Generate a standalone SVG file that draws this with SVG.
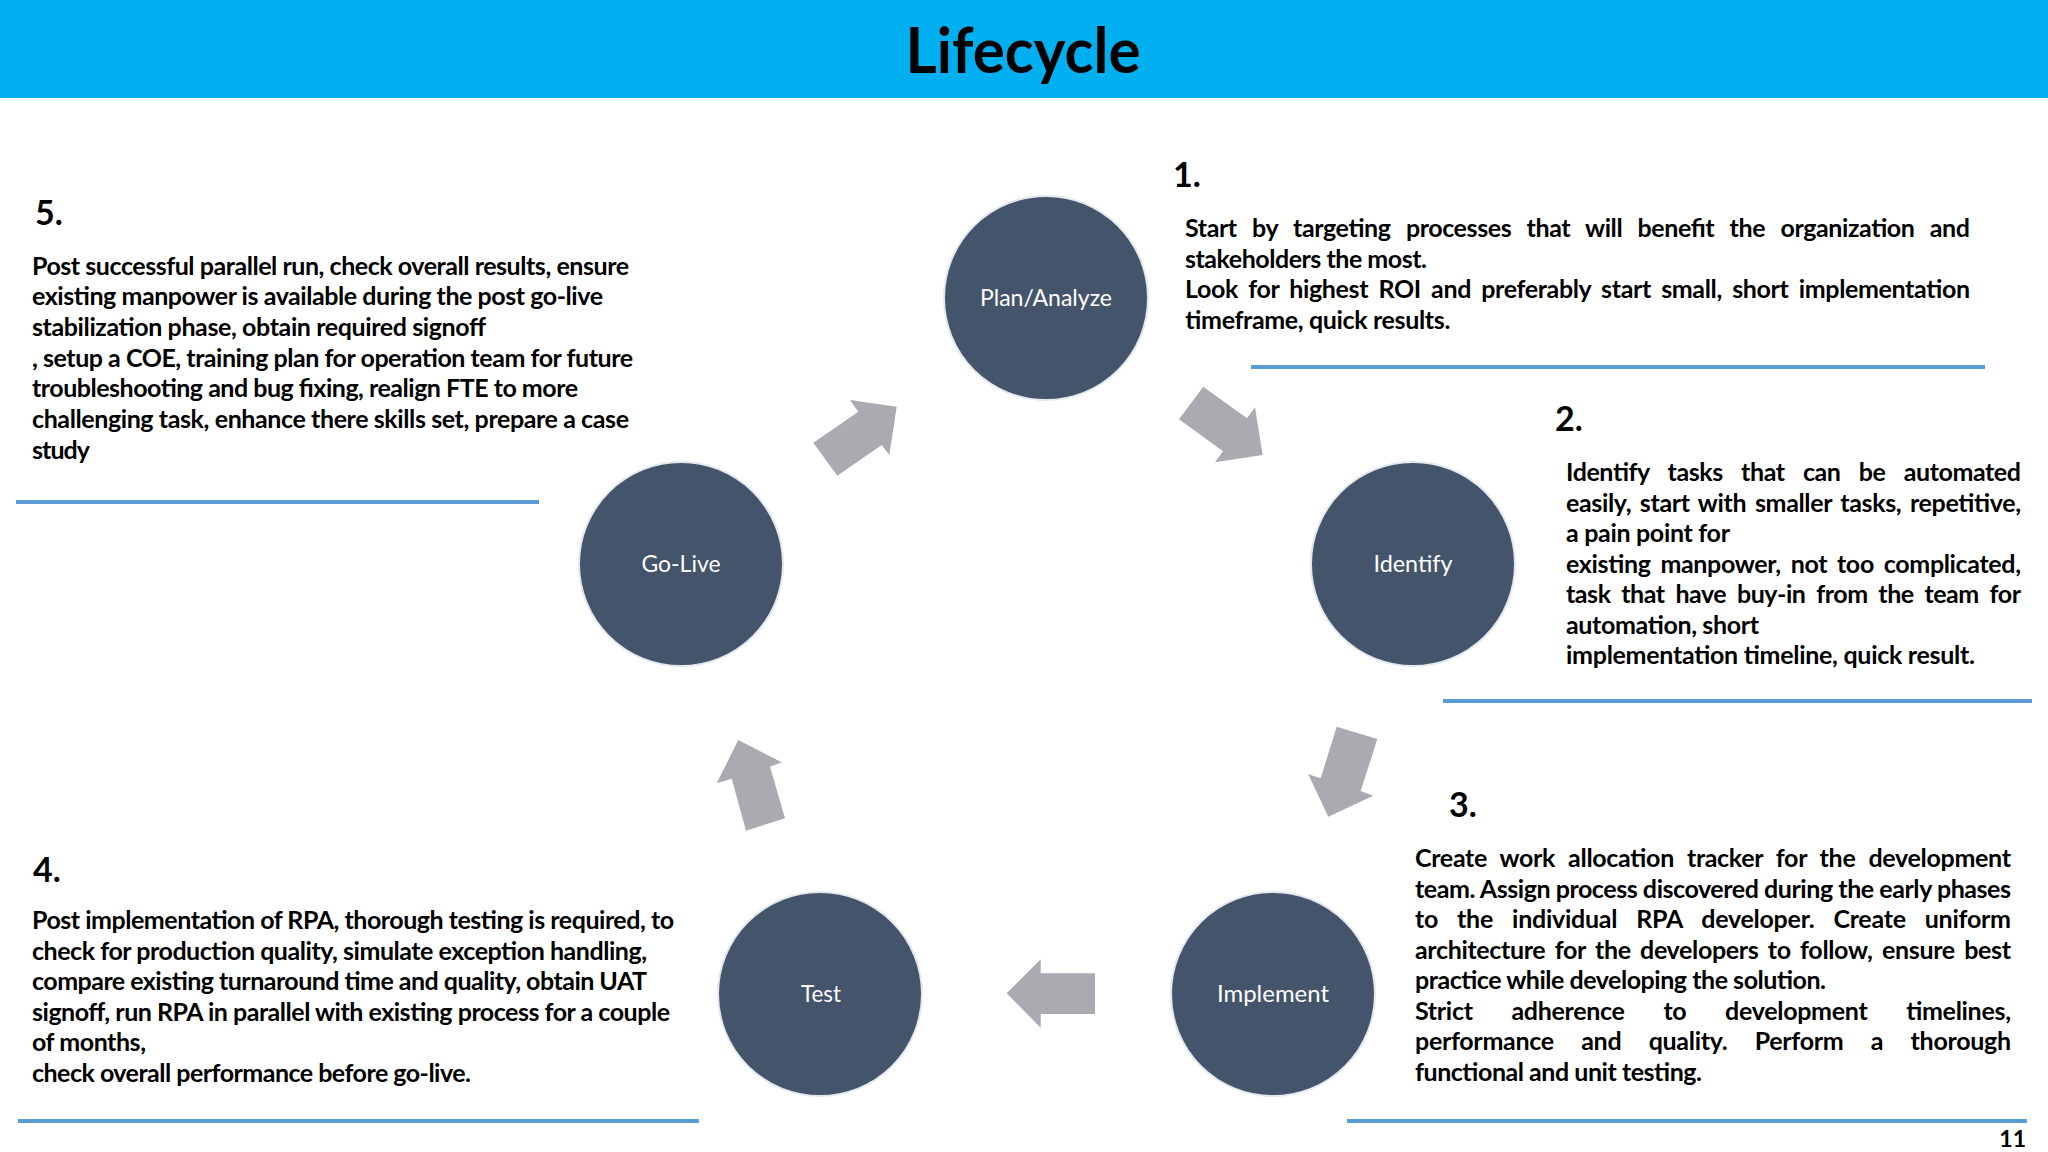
<svg xmlns="http://www.w3.org/2000/svg" width="2048" height="1152" viewBox="0 0 2048 1152">
<style>
.bg{fill:#ffffff}
.hdr{fill:#00AFEF}
.title{font-family:Lato,'Open Sans','Liberation Sans',sans-serif;font-weight:700;font-size:63px;fill:#000;text-anchor:middle}
.body{font-family:Lato,'Open Sans','Liberation Sans',sans-serif;font-weight:700;font-size:25px;fill:#000}
.num{font-family:Lato,'Open Sans','Liberation Sans',sans-serif;font-weight:700;font-size:34px;fill:#000}
.pg{font-family:Lato,'Open Sans','Liberation Sans',sans-serif;font-weight:700;font-size:23px;fill:#000;text-anchor:end}
.node{fill:#44546A;stroke:#E3E8EF;stroke-width:2}
.lbl{font-family:Lato,'Open Sans','Liberation Sans',sans-serif;font-size:24px;fill:#fff;text-anchor:middle}
.rule{stroke:#5B9BD5;stroke-width:4}
.arr{fill:#A9ABB1}
</style>
<rect class="bg" x="0" y="0" width="2048" height="1152"/>
<rect class="hdr" x="0" y="0" width="2048" height="98"/>
<text class="title" x="1023" y="73" textLength="235" lengthAdjust="spacingAndGlyphs">Lifecycle</text>

<g id="connectors">
<polygon class="arr" points="813.3,442.7 858.3,411.7 850,400 896.7,406.7 889.3,455 881.7,445 837.3,475.7"/>
<polygon class="arr" points="1203.3,386.7 1247,418.3 1255,407.3 1262.7,455 1215,462.3 1223,451.3 1179,419.3"/>
<polygon class="arr" points="1336.7,726.7 1377.3,739 1360.7,791 1373.3,795.7 1328.3,816.7 1308.3,774.3 1320.7,778.3"/>
<polygon class="arr" points="1095,973.3 1040.7,973.3 1040.7,959.3 1006.7,993.3 1040.7,1027.7 1040.7,1014 1095,1014"/>
<polygon class="arr" points="746,830.7 731.7,778.7 716.7,783.3 738.3,740 781.7,762.3 770,766.7 785,818.3"/>
</g>

<g id="node-plan">
<circle class="node" cx="1046" cy="298" r="102"/>
<text class="lbl" x="1046" y="306" textLength="132" lengthAdjust="spacingAndGlyphs">Plan/Analyze</text>
</g>
<g id="node-identify">
<circle class="node" cx="1413" cy="564" r="102"/>
<text class="lbl" x="1413" y="572" textLength="79" lengthAdjust="spacingAndGlyphs">Identify</text>
</g>
<g id="node-implement">
<circle class="node" cx="1273" cy="994" r="102"/>
<text class="lbl" x="1273" y="1002" textLength="112" lengthAdjust="spacingAndGlyphs">Implement</text>
</g>
<g id="node-test">
<circle class="node" cx="820" cy="994" r="102"/>
<text class="lbl" x="821" y="1002" textLength="40" lengthAdjust="spacingAndGlyphs">Test</text>
</g>
<g id="node-golive">
<circle class="node" cx="681" cy="564" r="102"/>
<text class="lbl" x="681" y="572" textLength="79" lengthAdjust="spacingAndGlyphs">Go-Live</text>
</g>

<g id="step1">
<text class="num" x="1173" y="187">1.</text>
<text class="body" x="1185" y="237" textLength="785" lengthAdjust="spacing" style="word-spacing:9.7px">Start by targeting processes that will benefit the organization and</text>
<text class="body" x="1185" y="267.5" textLength="242" lengthAdjust="spacing">stakeholders the most.</text>
<text class="body" x="1185" y="298" textLength="785" lengthAdjust="spacing" style="word-spacing:4.6px">Look for highest ROI and preferably start small, short implementation</text>
<text class="body" x="1185" y="328.5" textLength="265" lengthAdjust="spacing">timeframe, quick results.</text>
<line class="rule" x1="1251" y1="367" x2="1985" y2="367"/>
</g>

<g id="step2">
<text class="num" x="1555" y="431">2.</text>
<text class="body" x="1566" y="481" textLength="455" lengthAdjust="spacing" style="word-spacing:12.6px">Identify tasks that can be automated</text>
<text class="body" x="1566" y="511.5" textLength="455" lengthAdjust="spacing" style="word-spacing:3px">easily, start with smaller tasks, repetitive,</text>
<text class="body" x="1566" y="542" textLength="164" lengthAdjust="spacing">a pain point for</text>
<text class="body" x="1566" y="572.5" textLength="455" lengthAdjust="spacing" style="word-spacing:4.2px">existing manpower, not too complicated,</text>
<text class="body" x="1566" y="603" textLength="455" lengthAdjust="spacing" style="word-spacing:5.1px">task that have buy-in from the team for</text>
<text class="body" x="1566" y="633.5" textLength="193" lengthAdjust="spacing">automation, short</text>
<text class="body" x="1566" y="664" textLength="409" lengthAdjust="spacing">implementation timeline, quick result.</text>
<line class="rule" x1="1443" y1="701" x2="2032" y2="701"/>
</g>

<g id="step3">
<text class="num" x="1449" y="817">3.</text>
<text class="body" x="1415" y="867" textLength="596" lengthAdjust="spacing" style="word-spacing:7.2px">Create work allocation tracker for the development</text>
<text class="body" x="1415" y="897.5" textLength="596" lengthAdjust="spacing">team. Assign process discovered during the early phases</text>
<text class="body" x="1415" y="928" textLength="596" lengthAdjust="spacing" style="word-spacing:13.2px">to the individual RPA developer. Create uniform</text>
<text class="body" x="1415" y="958.5" textLength="596" lengthAdjust="spacing" style="word-spacing:3.7px">architecture for the developers to follow, ensure best</text>
<text class="body" x="1415" y="989" textLength="411" lengthAdjust="spacing">practice while developing the solution.</text>
<text class="body" x="1415" y="1019.5" textLength="596" lengthAdjust="spacing" style="word-spacing:33px">Strict adherence to development timelines,</text>
<text class="body" x="1415" y="1050" textLength="596" lengthAdjust="spacing" style="word-spacing:21.6px">performance and quality. Perform a thorough</text>
<text class="body" x="1415" y="1080.5" textLength="287" lengthAdjust="spacing">functional and unit testing.</text>
<line class="rule" x1="1347" y1="1121" x2="2027" y2="1121"/>
</g>

<g id="step4">
<text class="num" x="33" y="882">4.</text>
<text class="body" x="32" y="929" textLength="642" lengthAdjust="spacing">Post implementation of RPA, thorough testing is required, to</text>
<text class="body" x="32" y="959.5" textLength="615" lengthAdjust="spacing">check for production quality, simulate exception handling,</text>
<text class="body" x="32" y="990" textLength="615" lengthAdjust="spacing">compare existing turnaround time and quality, obtain UAT</text>
<text class="body" x="32" y="1020.5" textLength="638" lengthAdjust="spacing">signoff, run RPA in parallel with existing process for a couple</text>
<text class="body" x="32" y="1051" textLength="114" lengthAdjust="spacing">of months,</text>
<text class="body" x="32" y="1081.5" textLength="439" lengthAdjust="spacing">check overall performance before go-live.</text>
<line class="rule" x1="18" y1="1121" x2="699" y2="1121"/>
</g>

<g id="step5">
<text class="num" x="35" y="225">5.</text>
<text class="body" x="32" y="274.5" textLength="597" lengthAdjust="spacing">Post successful parallel run, check overall results, ensure</text>
<text class="body" x="32" y="305.2" textLength="571" lengthAdjust="spacing">existing manpower is available during the post go-live</text>
<text class="body" x="32" y="335.9" textLength="454" lengthAdjust="spacing">stabilization phase, obtain required signoff</text>
<text class="body" x="32" y="366.6" textLength="601" lengthAdjust="spacing">, setup a COE, training plan for operation team for future</text>
<text class="body" x="32" y="397.3" textLength="546" lengthAdjust="spacing">troubleshooting and bug fixing, realign FTE to more</text>
<text class="body" x="32" y="428" textLength="597" lengthAdjust="spacing">challenging task, enhance there skills set, prepare a case</text>
<text class="body" x="32" y="458.7" textLength="58" lengthAdjust="spacing">study</text>
<line class="rule" x1="16" y1="502" x2="539" y2="502"/>
</g>

<text class="pg" x="2026" y="1147">11</text>
</svg>
